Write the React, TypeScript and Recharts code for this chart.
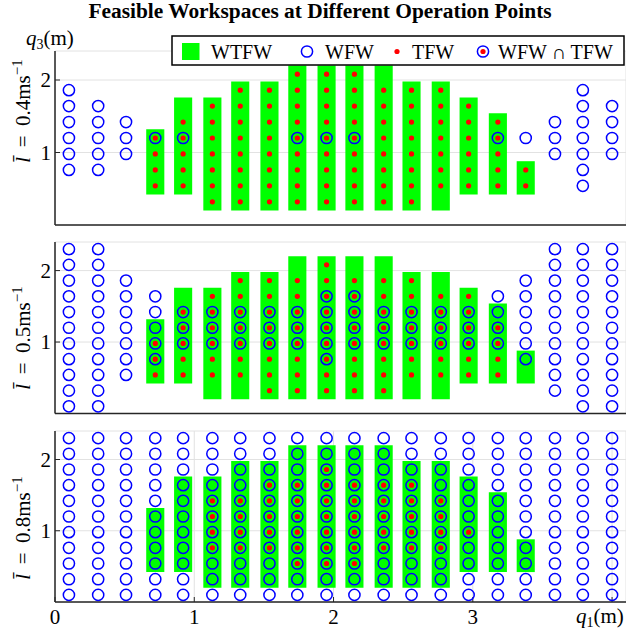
import React from "react";
import { CartesianGrid, ComposedChart, ReferenceArea, Scatter, XAxis, YAxis } from "recharts";

const FONT = '"Liberation Serif", "Times New Roman", serif';
const AXIS_COLOR = "#262626";
const GREEN = "#00ff00";
const BLUE = "#0000ff";
const RED = "#ff0000";

// grid of operating positions
const Q1 = [0.1, 0.31, 0.51, 0.72, 0.92, 1.13, 1.33, 1.54, 1.74, 1.95, 2.15, 2.36, 2.56, 2.77, 2.97, 3.18, 3.38, 3.59, 3.79, 4.0];
const Q3 = [0.1, 0.32, 0.54, 0.76, 0.98, 1.2, 1.42, 1.64, 1.86, 2.08, 2.3];

const X_TICKS = [0, 1, 2, 3, 4];
const Y_TICKS = [1, 2];
const SPEEDS = ["0.4", "0.5", "0.8"];

// [q1 column, first q3 row, last q3 row]
type Span = [number, number, number];

const WTFW: Span[] = [
  [3, 2, 5], [4, 2, 7], [5, 1, 7], [6, 1, 8], [7, 1, 8], [8, 1, 9], [9, 1, 9],
  [10, 1, 9], [11, 1, 9], [12, 1, 8], [13, 1, 8], [14, 2, 7], [15, 2, 6], [16, 2, 3]
];

const WFW_04: Span[] = [
  [0, 3, 8], [1, 3, 7], [2, 4, 6], [3, 5, 5], [4, 5, 5], [8, 5, 5], [9, 5, 5],
  [10, 5, 5], [15, 5, 5], [16, 5, 5], [17, 4, 6], [18, 2, 8], [19, 4, 7]
];
const TFW_04: Span[] = [
  [3, 2, 5], [4, 2, 6], [5, 1, 7], [6, 1, 8], [7, 1, 8], [8, 1, 9], [9, 1, 9],
  [10, 1, 9], [11, 1, 8], [12, 1, 8], [13, 2, 8], [14, 2, 7], [15, 2, 6], [16, 2, 3]
];

const WFW_05: Span[] = [
  [0, 0, 10], [1, 0, 10], [2, 2, 8], [3, 3, 7], [4, 4, 6], [5, 4, 6], [6, 4, 6],
  [7, 4, 6], [8, 4, 6], [9, 3, 7], [10, 4, 7], [11, 4, 6], [12, 4, 6], [13, 4, 6],
  [14, 4, 6], [15, 4, 7], [16, 3, 8], [17, 1, 10], [18, 0, 10], [19, 0, 10]
];
const TFW_05: Span[] = [
  [3, 2, 4], [4, 2, 6], [5, 2, 7], [6, 2, 8], [7, 1, 8], [8, 1, 8], [9, 1, 9],
  [10, 1, 8], [11, 1, 8], [12, 2, 8], [13, 2, 7], [14, 2, 7], [15, 2, 5]
];

const WFW_08: Span[] = [
  [0, 0, 10], [1, 0, 10], [2, 0, 10], [3, 0, 10], [4, 0, 10], [5, 0, 10], [6, 0, 10],
  [7, 0, 10], [8, 0, 10], [9, 0, 10], [10, 0, 10], [11, 0, 10], [12, 0, 10], [13, 0, 10],
  [14, 0, 10], [15, 0, 10], [16, 0, 10], [17, 0, 10], [18, 0, 10], [19, 0, 10]
];
const TFW_08: Span[] = [
  [5, 3, 6], [6, 3, 6], [7, 3, 7], [8, 2, 7], [9, 2, 8], [10, 2, 7], [11, 3, 7],
  [12, 3, 7], [13, 3, 6], [14, 4, 4]
];

function toPoints(spans: Span[]) {
  const pts: { x: number; y: number }[] = [];
  for (const [c, lo, hi] of spans) {
    for (let k = lo; k <= hi; k++) pts.push({ x: Q1[c], y: Q3[k] });
  }
  return pts;
}

const Ring = (p: any) => <circle cx={p.cx} cy={p.cy} r={5.6} fill="none" stroke={BLUE} strokeWidth={1.5} />;
const Dot = (p: any) => <circle cx={p.cx} cy={p.cy} r={2.6} fill={RED} />;

function XTick(props: any) {
  const { x, y, payload } = props;
  if (payload.value === 4) return <g />;
  return (
    <text x={x} y={y} dy={15} textAnchor="middle" fontSize={21} fill="#000" fontFamily={FONT}>
      {payload.value}
    </text>
  );
}

function Panel({ top, plotH, wfw, tfw, showX }: { top: number; plotH: number; wfw: Span[]; tfw: Span[]; showX: boolean }) {
  return (
    <div style={{ position: "absolute", left: 0, top: top - 5 }}>
      <ComposedChart width={626} height={plotH + 35} margin={{ top: 5, right: 0, bottom: 0, left: 0 }}>
        <CartesianGrid stroke="#e2e2e2" />
        <XAxis
          type="number"
          dataKey="x"
          domain={[0, 4.1]}
          ticks={X_TICKS}
          interval={0}
          allowDataOverflow
          height={30}
          axisLine={{ stroke: AXIS_COLOR, strokeWidth: 1.5 }}
          tickLine={{ stroke: AXIS_COLOR }}
          tickSize={-5}
          tickMargin={12}
          tick={showX ? XTick : false}
        />
        <YAxis
          type="number"
          dataKey="y"
          domain={[0, 2.4]}
          ticks={Y_TICKS}
          interval={0}
          allowDataOverflow
          width={55}
          axisLine={{ stroke: AXIS_COLOR, strokeWidth: 1.5 }}
          tickLine={{ stroke: AXIS_COLOR }}
          tickSize={-5}
          tickMargin={9}
          tick={{ fill: "#000", fontSize: 21, fontFamily: FONT }}
        />
        {WTFW.map(([c, lo, hi]) => (
          <ReferenceArea
            key={c}
            x1={Q1[c] - 0.065}
            x2={Q1[c] + 0.065}
            y1={Q3[lo] - 0.12}
            y2={Q3[hi] + 0.12}
            fill={GREEN}
            fillOpacity={1}
            stroke="none"
            ifOverflow="visible"
          />
        ))}
        <Scatter data={toPoints(wfw)} shape={Ring} isAnimationActive={false} />
        <Scatter data={toPoints(tfw)} shape={Dot} isAnimationActive={false} />
      </ComposedChart>
    </div>
  );
}

function SpeedLabel({ cy, speed }: { cy: number; speed: string }) {
  return (
    <text transform={`translate(30,${cy}) rotate(-90)`} textAnchor="middle" fontSize={21}>
      <tspan fontStyle="italic">{"l\u0304"}</tspan>
      <tspan>{` \u2009=\u2009 ${speed}ms`}</tspan>
      <tspan fontSize={15} dy={-8}>{"\u22121"}</tspan>
    </text>
  );
}

export default function App() {
  return (
    <div style={{ position: "absolute", left: 0, top: 0, width: 626, height: 634, background: "#fff", fontFamily: FONT }}>
      <Panel top={51} plotH={174} wfw={WFW_04} tfw={TFW_04} showX={false} />
      <Panel top={241.5} plotH={171.5} wfw={WFW_05} tfw={TFW_05} showX={false} />
      <Panel top={430.5} plotH={171} wfw={WFW_08} tfw={TFW_08} showX={true} />
      <svg width={626} height={634} style={{ position: "absolute", left: 0, top: 0, pointerEvents: "none" }} fontFamily={FONT}>
        <text x={320} y={18} textAnchor="middle" fontWeight="bold" fontSize={21.4}>
          Feasible Workspaces at Different Operation Points
        </text>
        <text x={26} y={45} fontSize={21}>
          <tspan fontStyle="italic">q</tspan>
          <tspan fontSize={14} dy={4}>3</tspan>
          <tspan dy={-4}>(m)</tspan>
        </text>
        <text x={576} y={623} fontSize={21}>
          <tspan fontStyle="italic">q</tspan>
          <tspan fontSize={14} dy={4}>1</tspan>
          <tspan dy={-4}>(m)</tspan>
        </text>
        <SpeedLabel cy={111} speed={SPEEDS[0]} />
        <SpeedLabel cy={338} speed={SPEEDS[1]} />
        <SpeedLabel cy={528} speed={SPEEDS[2]} />

        <rect x={172} y={36} width={452} height={29} fill="#fff" stroke="#000" strokeWidth={1.5} />
        <rect x={182} y={43} width={17.5} height={17} fill={GREEN} />
        <text x={211} y={59} fontSize={20}>WTFW</text>
        <circle cx={307} cy={51.5} r={5.6} fill="none" stroke={BLUE} strokeWidth={1.5} />
        <text x={325} y={59} fontSize={20}>WFW</text>
        <circle cx={397} cy={51.5} r={2.6} fill={RED} />
        <text x={412} y={59} fontSize={20}>TFW</text>
        <circle cx={483} cy={51.5} r={5.6} fill="none" stroke={BLUE} strokeWidth={1.5} />
        <circle cx={483} cy={51.5} r={2.6} fill={RED} />
        <text x={498} y={59} fontSize={20}>{"WFW \u2229 TFW"}</text>
      </svg>
    </div>
  );
}
